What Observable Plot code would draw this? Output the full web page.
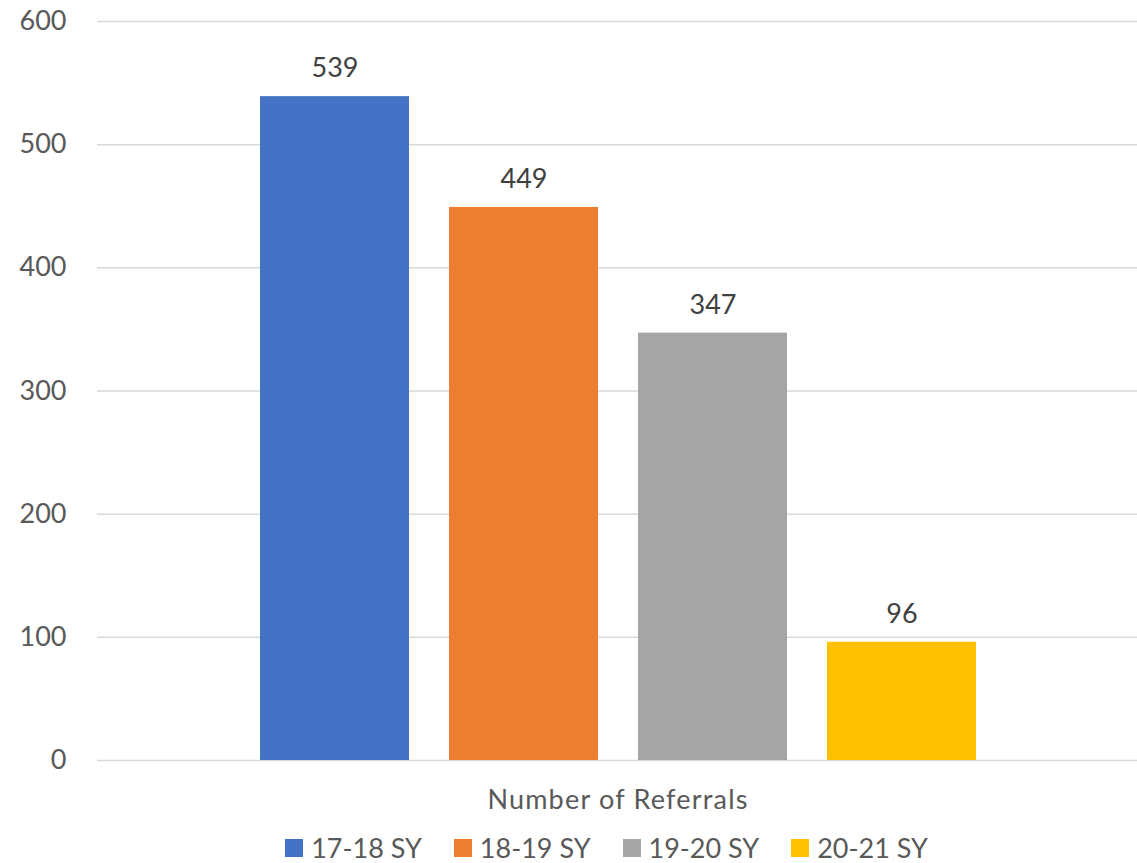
<!DOCTYPE html>
<html>
<head>
<meta charset="utf-8">
<script src="https://cdn.jsdelivr.net/npm/d3@7"></script>
<script src="https://cdn.jsdelivr.net/npm/@observablehq/plot@0.6"></script>
<style>
  body { margin: 0; background: #fff; font-family: Lato, "Open Sans", sans-serif; }
  #wrap { position: relative; width: 1137px; height: 863px; }
  #chart { position: absolute; left: 0; top: 0; }
  #xlabel { position: absolute; left: 0; width: 1236px; top: 782px; text-align: center; font-size: 27px; letter-spacing: 1.2px; color: #595959; }
  #legend { position: absolute; left: 0; width: 1213px; top: 831px; display: flex; justify-content: center; gap: 32px; font-size: 27px; color: #595959; }
  .item { display: flex; align-items: center; gap: 8px; }
  .sw { width: 18px; height: 18px; display: inline-block; }
</style>
</head>
<body>
<div id="wrap">
  <div id="chart"></div>
  <div id="xlabel"></div>
  <div id="legend"></div>
</div>
<script>
const series = ["17-18 SY", "18-19 SY", "19-20 SY", "20-21 SY"];
const values = [539, 449, 347, 96];
const colors = ["#4472C4", "#ED7D31", "#A5A5A5", "#FFC000"];
const yTicks = [0, 100, 200, 300, 400, 500, 600];
const xTitle = "Number of Referrals";

const data = series.map((s, i) => ({series: s, value: values[i]}));

const chart = Plot.plot({
  width: 1137,
  height: 780,
  marginLeft: 97,
  marginRight: 0,
  marginTop: 21,
  marginBottom: 20,
  style: { fontFamily: "Lato, 'Open Sans', sans-serif", background: "#fff" },
  x: { domain: series, range: [240, 996], paddingInner: 40 / 189, paddingOuter: 20 / 189, axis: null },
  y: { domain: [0, 600] },
  color: { domain: series, range: colors },
  marks: [
    Plot.gridY(yTicks, { stroke: "#D9D9D9", strokeOpacity: 1, strokeWidth: 1.5 }),
    Plot.axisY(yTicks, { tickSize: 0, tickPadding: 31, fontSize: 27, fill: "#595959", label: null }),
    Plot.barY(data, { x: "series", y: "value", fill: "series" }),
    Plot.text(data, { x: "series", y: "value", text: d => String(d.value), dy: -28, fontSize: 27, fill: "#404040" })
  ]
});
document.getElementById("chart").appendChild(chart);
document.getElementById("xlabel").textContent = xTitle;

const legend = document.getElementById("legend");
series.forEach((s, i) => {
  const item = document.createElement("div");
  item.className = "item";
  const sw = document.createElement("span");
  sw.className = "sw";
  sw.style.background = colors[i];
  const t = document.createElement("span");
  t.textContent = s;
  item.appendChild(sw);
  item.appendChild(t);
  legend.appendChild(item);
});
</script>
</body>
</html>
